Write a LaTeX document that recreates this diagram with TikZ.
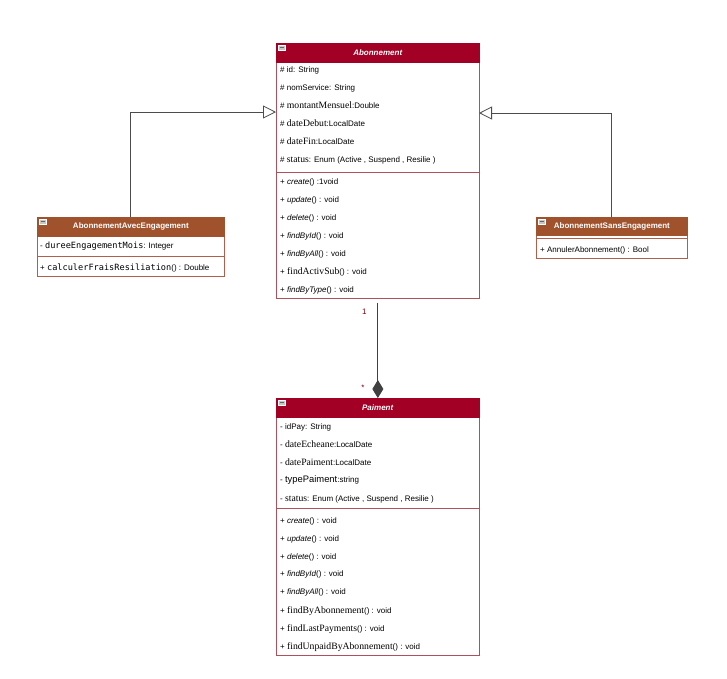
\documentclass[tikz,border=0pt]{standalone}
\usepackage{fontspec}
\setmainfont{Liberation Sans}
\newfontfamily\tmsfont{Liberation Serif}
\newfontfamily\codefont{DejaVu Sans Mono}
\usepackage{tikz}
\usetikzlibrary{arrows.meta}
\definecolor{hdrred}{HTML}{A20025}
\definecolor{hdrbrown}{HTML}{A0522D}
\definecolor{redline}{HTML}{B0505A}
\definecolor{brownline}{HTML}{B0604A}
\definecolor{multred}{HTML}{7A0010}
\newcommand{\TMS}[1]{{\tmsfont\fontsize{9.7}{10}\selectfont #1}}
\newcommand{\MONO}[1]{{\codefont\fontsize{8.6}{10}\selectfont #1}}
\tikzset{
  box/.style={draw=#1, line width=0.7pt, anchor=north west, inner sep=0pt},
  head/.style={draw=#1, fill=#1, line width=0.7pt, text=white, anchor=north west,
    inner sep=0pt, minimum height=19pt, font=\bfseries\fontsize{8}{9}\selectfont},
  fold/.style={draw=white, fill=gray!45, anchor=north west, inner sep=0pt,
    minimum width=7pt, minimum height=5pt,
    path picture={\draw[black!60, line width=0.6pt]
      ([xshift=1.5pt]path picture bounding box.west) -- ([xshift=-1.5pt]path picture bounding box.east);}},
  row/.style={anchor=west, inner sep=0pt, text height=6pt, text depth=2pt,
    font=\fontsize{8}{9}\selectfont},
  compline/.style={draw=#1, line width=0.7pt},
  inherit/.style={draw=black!70, line width=0.8pt, -{Triangle[open, fill=white, length=13pt, width=13pt]}},
  compo/.style={draw=black!75, line width=0.8pt, -{Diamond[length=18pt, width=11pt]}},
  mult/.style={text=multred, font=\fontsize{8}{9}\selectfont, inner sep=0pt}
}

\begin{document}
\begin{tikzpicture}[x=1pt, y=-1pt]
\useasboundingbox (0,0) rectangle (727,678);
% Abonnement
\node[box=redline, minimum width=203, minimum height=255] (abo) at (276,43) {};
\node[head=hdrred, minimum width=203] (aboH) at (276,43) {\textit{Abonnement}};
\node[fold] at ([xshift=2pt,yshift=-2pt]aboH.north west) {};
\draw[compline=redline] (276,172) -- (479,172);
\node[row] (aboA1) at (280,70) {\# id: String};
\node[row] (aboA2) at (280,88) {\# nomService: String};
\node[row] (aboA3) at (280,106) {\# \TMS{montantMensuel}:Double};
\node[row] (aboA4) at (280,124) {\# \TMS{dateDebut}:LocalDate};
\node[row] (aboA5) at (280,142) {\# \TMS{dateFin}:LocalDate};
\node[row] (aboA6) at (280,160) {\# \TMS{status}: Enum (Active , Suspend , Resilie )};
\node[row] (aboM1) at (280,182) {+ \textit{create}() :1void};
\node[row] (aboM2) at (280,200) {+ \textit{update}() : void};
\node[row] (aboM3) at (280,218) {+ \textit{delete}() : void};
\node[row] (aboM4) at (280,236) {+ \textit{findById}() : void};
\node[row] (aboM5) at (280,254) {+ \textit{findByAll}() : void};
\node[row] (aboM6) at (280,272) {+ \TMS{findActivSub}() : void};
\node[row] (aboM7) at (280,290) {+ \textit{findByType}() : void};
%
% AbonnementAvecEngagement
\node[box=brownline, minimum width=187, minimum height=59] (avec) at (37,217) {};
\node[head=hdrbrown, minimum width=187] (avecH) at (37,217) {AbonnementAvecEngagement};
\node[fold] at ([xshift=2pt,yshift=-2pt]avecH.north west) {};
\draw[compline=brownline] (37,256) -- (224,256);
\node[row] (avecA1) at (40,246) {- \MONO{dureeEngagementMois}: Integer};
\node[row] (avecM1) at (40,268) {+ \MONO{calculerFraisResiliation}() : Double};
%
% AbonnementSansEngagement
\node[box=brownline, minimum width=151, minimum height=41] (sans) at (536,217) {};
\node[head=hdrbrown, minimum width=151, minimum height=18] (sansH) at (536,217) {AbonnementSansEngagement};
\node[fold] at ([xshift=2pt,yshift=-2pt]sansH.north west) {};
\draw[compline=brownline] (536,238) -- (687,238);
\node[row] (sansM1) at (540,250) {+ AnnulerAbonnement() : Bool};
%
% Paiement
\node[box=redline, minimum width=203, minimum height=257] (pai) at (276,398) {};
\node[head=hdrred, minimum width=203] (paiH) at (276,398) {\textit{Paiment}};
\node[fold] at ([xshift=2pt,yshift=-2pt]paiH.north west) {};
\draw[compline=redline] (276,508) -- (479,508);
\node[row] (paiA1) at (280,427) {- idPay: String};
\node[row] (paiA2) at (280,445) {- \TMS{dateEcheane}:LocalDate};
\node[row] (paiA3) at (280,463) {- \TMS{datePaiment}:LocalDate};
\node[row] (paiA4) at (280,480) {- {\fontsize{9.4}{10}\selectfont typePaiment}:string};
\node[row] (paiA5) at (280,499) {- \TMS{status}: Enum (Active , Suspend , Resilie )};
\node[row] (paiM1) at (280,521) {+ \textit{create}() : void};
\node[row] (paiM2) at (280,539) {+ \textit{update}() : void};
\node[row] (paiM3) at (280,557) {+ \textit{delete}() : void};
\node[row] (paiM4) at (280,574) {+ \textit{findById}() : void};
\node[row] (paiM5) at (280,592) {+ \textit{findByAll}() : void};
\node[row] (paiM6) at (280,611) {+ \TMS{findByAbonnement}() : void};
\node[row] (paiM7) at (280,629) {+ \TMS{findLastPayments}() : void};
\node[row] (paiM8) at (280,647) {+ \TMS{findUnpaidByAbonnement}() : void};
%
% connectors
\coordinate (aboL) at (276,112);
\coordinate (aboR) at (479,113);
\draw[inherit] (avec.north) |- (aboL);
\draw[inherit] (sans.north) |- (aboR);
\draw[compo] ([yshift=-4pt]abo.south) -- (paiH.north)
  node[mult, pos=0.1, left=11pt] {1}
  node[mult, pos=0.89, left=13pt] {*};
\end{tikzpicture}
\end{document}
